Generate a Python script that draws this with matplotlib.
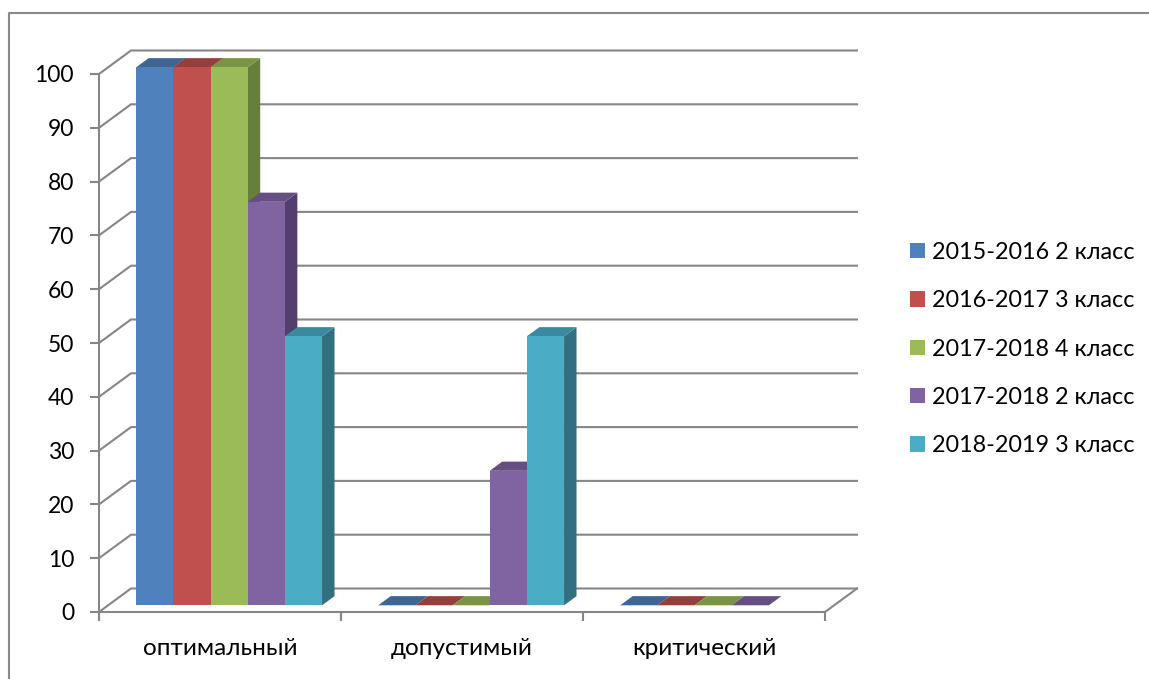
import matplotlib
matplotlib.use("Agg")
import matplotlib.pyplot as plt
from matplotlib.lines import Line2D
from matplotlib.patches import Patch, Polygon

categories = ["оптимальный", "допустимый", "критический"]
series_names = ["2015-2016 2 класс", "2016-2017 3 класс", "2017-2018 4 класс",
                "2017-2018 2 класс", "2018-2019 3 класс"]
s1 = [100, 0, 0]
s2 = [100, 0, 0]
s3 = [100, 0, 0]
s4 = [75, 25, 0]
s5 = [50, 50, None]
series = [s1, s2, s3, s4, s5]
yticks = list(range(0, 101, 10))

front = ["#4F81BD", "#C0504D", "#9BBB59", "#8064A2", "#4BACC6"]
top = ["#3F6592", "#943F3D", "#7A9445", "#654E82", "#3B899E"]
side = ["#35567D", "#7F3533", "#667F3A", "#523F6D", "#31717F"]
GRID = "#868686"

plt.rcParams["font.family"] = ["Lato", "Open Sans", "DejaVu Sans"]
W, H = 1149, 679
fig = plt.figure(figsize=(W / 100, H / 100), dpi=100)
L, R, T, B = 99, 825, 74, 612
ax = fig.add_axes([L / W, 1 - B / H, (R - L) / W, (B - T) / H])
ax.set_xlim(0, 3)
ax.set_ylim(0, 100)
ax.patch.set_visible(False)

# depth projection in data units
DX = 32 / ((R - L) / 3)
DY = 23.5 / ((B - T) / 100)


def proj(x, y, d):
    return (x + d * DX, y + d * DY)


for v in yticks:
    xs, ys = zip(proj(0, v, 0), proj(0, v, 1), proj(3, v, 1))
    ax.plot(xs, ys, color=GRID, lw=1.5, clip_on=False, zorder=1, solid_joinstyle="miter")
xs, ys = zip(proj(3, 0, 0), proj(3, 0, 1))
ax.plot(xs, ys, color=GRID, lw=1.5, clip_on=False, zorder=1)

for sp in ("top", "right"):
    ax.spines[sp].set_visible(False)
for sp in ("left", "bottom"):
    ax.spines[sp].set_color(GRID)
    ax.spines[sp].set_linewidth(1.5)
    ax.spines[sp].set_zorder(1.5)
ax.set_yticks(yticks)
ax.set_xticks([0, 1, 2, 3])
ax.set_xticklabels([])
ax.tick_params(axis="both", color=GRID, width=1.5, length=6.5)
ax.tick_params(axis="y", labelsize=16.5, pad=11.5, labelcolor="black")
for i, c in enumerate(categories):
    ax.annotate(c, (i + 0.5, 0), xytext=(0, -26), textcoords="offset points",
                ha="center", va="center", fontsize=17.5, color="black")

gap = 0.116
bw = (1 - 2 * gap) / 5
D0, D1 = 0.285, 0.675
z = 3
for cat in range(3):
    for k, vals in enumerate(series):
        v = vals[cat]
        if v is None:
            continue
        x0 = cat + gap + k * bw
        x1 = x0 + bw
        polys = [
            ([proj(x1, 0, D0), proj(x1, 0, D1), proj(x1, v, D1), proj(x1, v, D0)], side[k]),
            ([proj(x0, v, D0), proj(x1, v, D0), proj(x1, v, D1), proj(x0, v, D1)], top[k]),
            ([proj(x0, 0, D0), proj(x1, 0, D0), proj(x1, v, D0), proj(x0, v, D0)], front[k]),
        ]
        for pts, col in polys:
            ax.add_patch(Polygon(pts, closed=True, facecolor=col, edgecolor="none",
                                 clip_on=False, zorder=z))
            z += 0.01

handles = [Patch(facecolor=c, edgecolor="none", label=n) for c, n in zip(front, series_names)]
fs = 16.8
leg = fig.legend(handles=handles, loc="center left", bbox_to_anchor=(910 / W, 1 - 349 / H),
                 bbox_transform=fig.transFigure, frameon=False, fontsize=fs,
                 handlelength=0.64, handleheight=0.64, handletextpad=0.3,
                 labelspacing=1.17, borderpad=0, borderaxespad=0)

fig.add_artist(Line2D([9 / W, 9 / W, 1], [0, 1 - 13 / H, 1 - 13 / H], color="#8A8A8A", lw=1.5,
                      transform=fig.transFigure))
fig.savefig("out.png", dpi=100)
